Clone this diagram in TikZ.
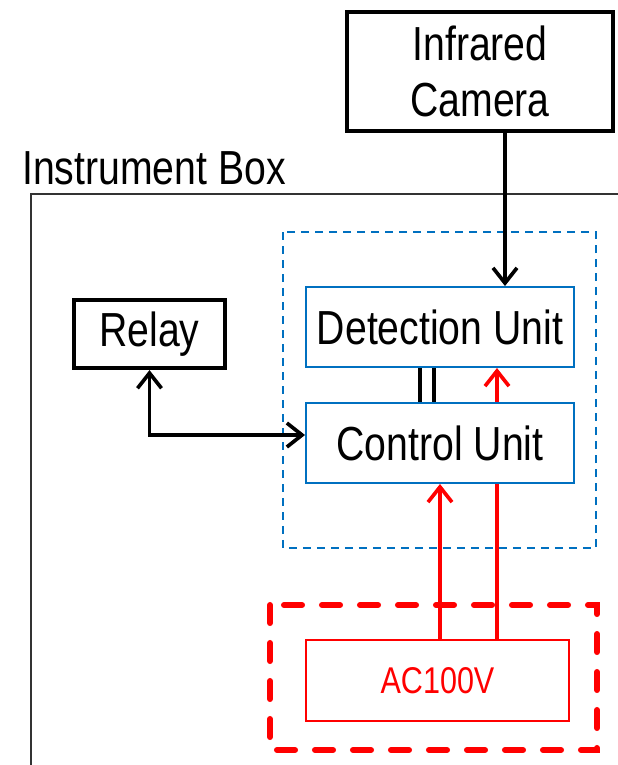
\documentclass[tikz,border=0pt]{standalone}
\usepackage{fontspec}
\setmainfont[FakeStretch = 0.82]{Liberation Sans}
\usetikzlibrary{arrows.meta}
\definecolor{unitblue}{RGB}{0,112,192}

\begin{document}
\begin{tikzpicture}[
		bigfont/.style = {font = \fontsize{34}{40}\selectfont},
		blackbox/.style = {draw, line width = 3pt, bigfont, align = center},
		unitbox/.style = {draw = unitblue, line width = 1.4pt, fill = white, bigfont, minimum width = 6.7cm, minimum height = 2cm},
		wire/.style = {line width = 2.6pt, arrows = {-Straight Barb[length = 0.38cm, width = 0.6cm]}}
	]
		\useasboundingbox (0,0) rectangle (15.45,-19.125);

		% instrument box
		\draw[line width = 1pt, black!80] (0.775,-19.125) -- (0.775,-4.85) -- (15.45,-4.85);
		\node[bigfont, anchor = west, inner sep = 0pt] (IB) at (0.55,-4.2) {Instrument Box};

		% dashed groups
		\draw[unitblue, line width = 1.4pt, dash pattern = on 0.2cm off 0.15cm] (7.075,-5.8) rectangle (14.9,-13.7);
		\draw[red, line width = 4.3pt, line cap = round, dash pattern = on 0.45cm off 0.5cm] (6.75,-15.125) rectangle (14.925,-18.75);

		\node[blackbox, minimum width = 6.65cm, minimum height = 2.975cm] (Cam) at (12.0,-1.7875) {Infrared\\Camera};
		\node[blackbox, minimum width = 3.775cm, minimum height = 1.7cm] (Relay) at (3.7375,-8.35) {Relay};
		\node[draw = red, text = red, line width = 1.4pt, font = \fontsize{26.5}{30}\selectfont,
			minimum width = 6.575cm, minimum height = 2.025cm] (AC) at (10.9375,-17.0125) {AC100V};

		\node[unitbox] (Det) at (11.0,-8.175) {Detection Unit};

		% red supply lines (the right one runs behind the control unit)
		\draw[wire, red] ([xshift = 1.4875cm]AC.north) -- ([xshift = 1.4875cm]AC.north |- Det.south);

		\node[unitbox] (Ctl) at (11.0,-11.075) {Control Unit};

		\draw[wire, red] ([xshift = 0.0625cm]AC.north) -- (Ctl.south);
		\draw[wire] ([xshift = 0.625cm]Cam.south) -- ([xshift = 1.625cm]Det.north);
		\draw[wire, arrows = {Straight Barb[length = 0.38cm, width = 0.6cm]-Straight Barb[length = 0.38cm, width = 0.6cm]}]
			(Relay.south) |- ([yshift = 0.2cm]Ctl.west);

		\path[draw, line width = 2.6pt]
			([xshift = -0.5cm]Det.south) -- ([xshift = -0.5cm]Ctl.north)
			([xshift = -0.15cm]Det.south) -- ([xshift = -0.15cm]Ctl.north);
	\end{tikzpicture}
\end{document}
